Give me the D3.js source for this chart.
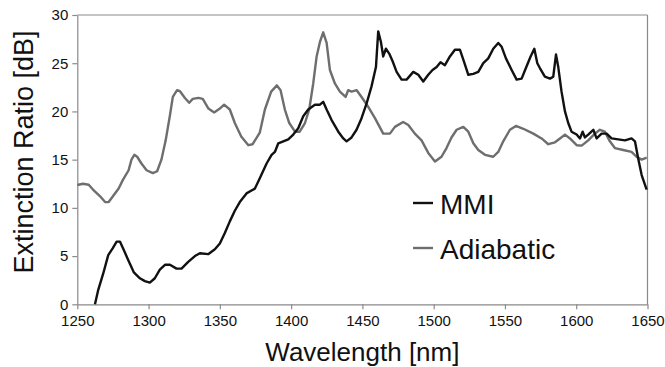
<!DOCTYPE html>
<html>
<head>
<meta charset="utf-8">
<script src="https://cdn.jsdelivr.net/npm/d3@7"></script>
<style>
  body { margin: 0; background: #fff; }
  svg { font-family: Arial, "Liberation Sans", sans-serif; }
</style>
</head>
<body>
<div id="chart"></div>
<script>
// MMI curve (wavelength nm, extinction ratio dB)
const mmiWl = [1262.4, 1264.7, 1268.2, 1271.7, 1274.8, 1277.6, 1279.9, 1282.7, 1285.7, 1289.7, 1293.9, 1297.4, 1300.9, 1304.4, 1307.9, 1311.5, 1315, 1319.6, 1323.1, 1327.8, 1332.5, 1336, 1341.8, 1346.5, 1350, 1353.5, 1357, 1360.5, 1364, 1368.7, 1372.2, 1374.6, 1378.1, 1382.8, 1386.3, 1388.6, 1391, 1394.5, 1398, 1401.5, 1405, 1408.5, 1412, 1416.7, 1420.2, 1422.5, 1424.9, 1428.4, 1433.1, 1436.6, 1438.9, 1442.4, 1445.9, 1449.4, 1452.9, 1456.4, 1459.5, 1461.1, 1463, 1464.6, 1466.5, 1468.8, 1471.2, 1474, 1477.5, 1481, 1485.7, 1489.2, 1492.7, 1496.2, 1499.2, 1502.1, 1504.8, 1507.9, 1511.4, 1514.9, 1518.4, 1521.2, 1524.3, 1527.8, 1531.3, 1534.8, 1538.3, 1541.8, 1545.3, 1547.7, 1550.7, 1554.7, 1558.2, 1561.7, 1564.7, 1568, 1570.6, 1572.7, 1574.5, 1578, 1581.6, 1583.9, 1585.8, 1587.4, 1589.7, 1592.1, 1594.4, 1596.7, 1600.3, 1602.6, 1604.5, 1606.1, 1608.4, 1612, 1614.3, 1617.8, 1621.3, 1624.8, 1629.5, 1634.2, 1638.8, 1641.2, 1643.5, 1645.9, 1649.4];
const mmiDb = [0, 1.5, 3.2, 5.1, 5.8, 6.5, 6.5, 5.6, 4.6, 3.3, 2.7, 2.4, 2.25, 2.7, 3.6, 4.1, 4.1, 3.7, 3.7, 4.4, 5.0, 5.3, 5.2, 5.7, 6.3, 7.4, 8.6, 9.7, 10.6, 11.5, 11.8, 12.0, 13.1, 14.6, 15.5, 15.8, 16.7, 16.9, 17.1, 17.6, 18.25, 19.5, 20.2, 20.7, 20.7, 21.0, 20.2, 19.1, 17.9, 17.2, 16.9, 17.3, 18.1, 19.3, 20.8, 22.6, 24.6, 28.3, 27.2, 25.7, 26.5, 26.0, 25.2, 24.1, 23.3, 23.3, 24.1, 23.8, 23.1, 23.8, 24.3, 24.6, 25.1, 24.8, 25.7, 26.4, 26.4, 25.2, 23.8, 23.9, 24.1, 25.0, 25.5, 26.5, 27.1, 26.7, 25.5, 24.3, 23.3, 23.4, 24.5, 25.7, 26.5, 25.0, 24.5, 23.6, 23.4, 23.6, 25.9, 24.6, 22.05, 20.0, 18.8, 17.9, 17.6, 17.2, 17.9, 17.3, 17.6, 18.1, 17.2, 17.7, 17.7, 17.2, 17.1, 17.0, 17.2, 16.9, 15.1, 13.4, 11.9];

// Adiabatic curve
const adiWl = [1250, 1254, 1258, 1261, 1266, 1269.5, 1272, 1275, 1279, 1282, 1286, 1288, 1290, 1292, 1295, 1298.6, 1303, 1306, 1309, 1312, 1315, 1317, 1320, 1322, 1325.5, 1328.5, 1331, 1335, 1338, 1342, 1346, 1350, 1353, 1357, 1360.5, 1365, 1370, 1373, 1378, 1381.6, 1386, 1390, 1392.6, 1395.6, 1398.7, 1402.7, 1406, 1409.7, 1412.7, 1415.5, 1417.9, 1420.2, 1422.5, 1424.9, 1427.2, 1430.7, 1434.2, 1438.2, 1440, 1442.4, 1446, 1449.4, 1454, 1458.8, 1464.6, 1469.3, 1472.8, 1478.6, 1482.2, 1486.8, 1491.5, 1496.2, 1500.9, 1505.5, 1509, 1512.5, 1516.1, 1520.8, 1524.3, 1527.8, 1531.3, 1536, 1541.8, 1545.3, 1548.8, 1553.5, 1557.7, 1562.9, 1569.9, 1575.7, 1580.4, 1585.1, 1588.6, 1592.1, 1595.6, 1600.3, 1603.8, 1608.4, 1613.1, 1616.6, 1620.1, 1623.6, 1627.1, 1633, 1638.8, 1642.3, 1645.9, 1649.4];
const adiDb = [12.37, 12.5, 12.4, 11.9, 11.2, 10.6, 10.6, 11.2, 12.0, 12.9, 13.9, 15.0, 15.5, 15.3, 14.6, 13.9, 13.6, 13.8, 15.0, 17.0, 19.6, 21.5, 22.2, 22.1, 21.4, 20.9, 21.3, 21.4, 21.3, 20.3, 19.9, 20.3, 20.7, 20.2, 18.8, 17.4, 16.5, 16.6, 17.8, 20.2, 22.05, 22.7, 22.2, 20.2, 18.8, 17.9, 17.9, 18.8, 20.2, 22.9, 25.7, 27.2, 28.2, 27.1, 24.3, 22.9, 22.05, 21.5, 22.2, 22.05, 22.2, 21.5, 20.5, 19.3, 17.7, 17.7, 18.4, 18.9, 18.6, 17.7, 17.0, 15.7, 14.8, 15.3, 16.2, 17.3, 18.1, 18.4, 17.9, 16.7, 16.0, 15.5, 15.3, 15.8, 16.9, 18.1, 18.5, 18.2, 17.7, 17.2, 16.6, 16.8, 17.2, 17.6, 17.2, 16.5, 16.45, 17.0, 17.7, 18.1, 17.9, 16.9, 16.2, 16.0, 15.8, 15.3, 15.0, 15.2];

const xTicks = [1250, 1300, 1350, 1400, 1450, 1500, 1550, 1600, 1650];
const yTicks = [0, 5, 10, 15, 20, 25, 30];

const series = [
  { name: 'MMI', wl: mmiWl, db: mmiDb, color: '#111111' },
  { name: 'Adiabatic', wl: adiWl, db: adiDb, color: '#6e6e6e' }
];

const W = 665, H = 367;
const margin = { top: 15, right: 17.5, bottom: 62.7, left: 77.3 };
const width = W - margin.left - margin.right;
const height = H - margin.top - margin.bottom;

const svg = d3.select('#chart').append('svg')
  .attr('width', W)
  .attr('height', H);

const g = svg.append('g')
  .attr('transform', `translate(${margin.left},${margin.top})`);

const x = d3.scaleLinear().domain([1250, 1650]).range([0, width]);
const y = d3.scaleLinear().domain([0, 30]).range([height, 0]);

const axisColor = '#8a8a8a';

// frame (top + right)
g.append('line')
  .attr('x1', 0).attr('x2', width).attr('y1', 0).attr('y2', 0)
  .attr('stroke', axisColor).attr('stroke-width', 1.2);
g.append('line')
  .attr('x1', width).attr('x2', width).attr('y1', 0).attr('y2', height)
  .attr('stroke', axisColor).attr('stroke-width', 1.2);

// X axis
const xAxis = g.append('g')
  .attr('transform', `translate(0,${height})`)
  .call(d3.axisBottom(x).tickValues(xTicks).tickFormat(d3.format('d')).tickSize(5).tickSizeOuter(0).tickPadding(6));
xAxis.select('.domain').attr('stroke', axisColor).attr('stroke-width', 1.2);
xAxis.selectAll('line').attr('stroke', axisColor).attr('stroke-width', 1.2);
xAxis.selectAll('text').attr('fill', '#111').style('font-size', '15px');

// Y axis
const yAxis = g.append('g')
  .call(d3.axisLeft(y).tickValues(yTicks).tickSize(5).tickSizeOuter(0).tickPadding(4));
yAxis.select('.domain').attr('stroke', axisColor).attr('stroke-width', 1.2);
yAxis.selectAll('line').attr('stroke', axisColor).attr('stroke-width', 1.2);
yAxis.selectAll('text').attr('fill', '#111').style('font-size', '15px');

// lines
const line = d3.line()
  .x(d => x(d[0]))
  .y(d => y(d[1]));

// draw Adiabatic first, MMI on top
[series[1], series[0]].forEach(s => {
  g.append('path')
    .datum(s.wl.map((w, i) => [w, s.db[i]]))
    .attr('fill', 'none')
    .attr('stroke', s.color)
    .attr('stroke-width', 2.4)
    .attr('stroke-linejoin', 'round')
    .attr('d', line);
});

// legend
const legend = g.append('g')
  .attr('transform', `translate(${413 - margin.left},${203 - margin.top})`);
series.forEach((s, i) => {
  const row = legend.append('g').attr('transform', `translate(0,${i * 45})`);
  row.append('line')
    .attr('x1', 0).attr('x2', 20).attr('y1', 0).attr('y2', 0)
    .attr('stroke', s.color).attr('stroke-width', 2.4);
  row.append('text')
    .attr('x', 27).attr('y', 10.5)
    .style('font-size', '28px')
    .attr('fill', '#111')
    .text(s.name);
});

// axis titles
svg.append('text')
  .attr('x', margin.left + width / 2)
  .attr('y', 361)
  .attr('text-anchor', 'middle')
  .style('font-size', '26px')
  .attr('fill', '#111')
  .text('Wavelength [nm]');

svg.append('text')
  .attr('transform', `translate(33,${152}) rotate(-90)`)
  .attr('text-anchor', 'middle')
  .style('font-size', '27px')
  .attr('fill', '#111')
  .text('Extinction Ratio [dB]');
</script>
</body>
</html>
